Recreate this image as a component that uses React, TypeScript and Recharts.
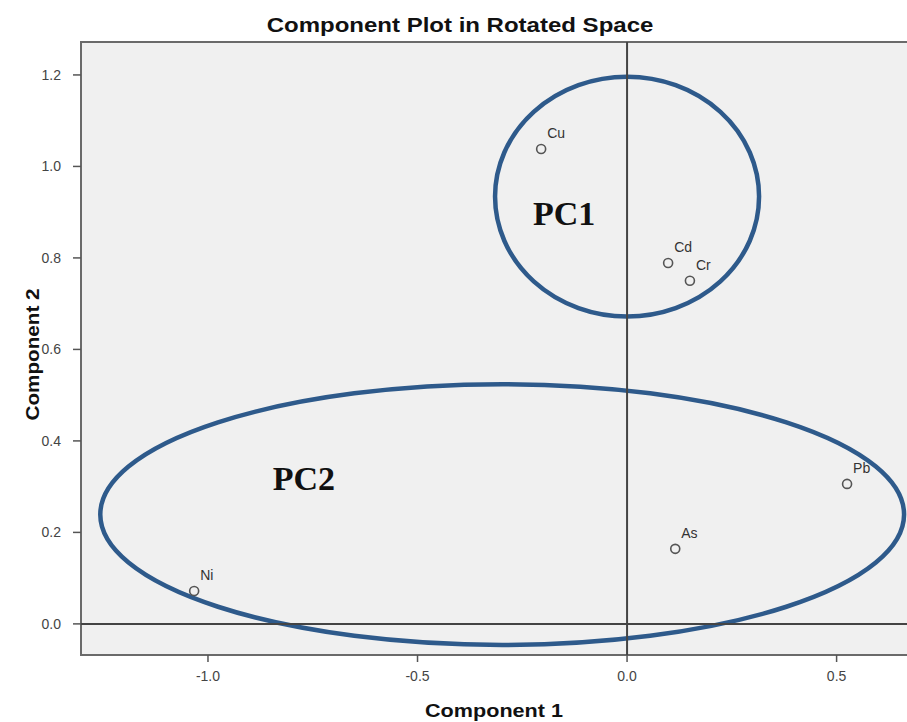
import React from "react"
import {
  ReferenceArea,
  ReferenceDot,
  ReferenceLine,
  Scatter,
  ScatterChart,
  XAxis,
  YAxis,
} from "recharts"

// component loadings
const elements = ["Cu", "Cd", "Cr", "Pb", "As", "Ni"]
const component1 = [-0.205, 0.098, 0.15, 0.525, 0.115, -1.033]
const component2 = [1.038, 0.789, 0.75, 0.306, 0.164, 0.072]

// hand-drawn groupings (centre, radii in axis units)
const groupNames = ["PC1", "PC2"]
const groupCx = [0.0, -0.298]
const groupCy = [0.934, 0.239]
const groupRx = [0.315, 0.959]
const groupRy = [0.262, 0.285]
const groupLabelX = [-0.15, -0.771]
const groupLabelY = [0.898, 0.317]

const xTicks = [-1.0, -0.5, 0.0, 0.5]
const yTicks = [0.0, 0.2, 0.4, 0.6, 0.8, 1.0, 1.2]
const X_DOMAIN: [number, number] = [-1.303, 0.668]
const Y_DOMAIN: [number, number] = [-0.068, 1.272]

const W = 907
const H = 722
const FONT = "'Liberation Sans', Arial, sans-serif"
const BG = "#f0f0f0"
const RING = "#2e5a8b"

const points = elements.map((name, i) => ({ name, x: component1[i], y: component2[i] }))

function PointMarker(props: any) {
  const { cx, cy, payload } = props
  if (cx == null || cy == null) return null
  return (
    <g>
      <circle cx={cx} cy={cy} r={4.5} fill={BG} stroke="#555" strokeWidth={1.6} />
      <text x={cx + 6} y={cy - 11} fontSize={14} fontFamily={FONT} fill="#333">
        {payload.name}
      </text>
    </g>
  )
}

function PlotFrame(props: any) {
  const { x, y, width, height } = props
  return (
    <g>
      <rect x={x} y={y} width={width} height={height} fill={BG} />
      <path
        d={`M${x + width + 2},${y} H${x} V${y + height} H${x + width + 2}`}
        fill="none"
        stroke="#6a6a6a"
        strokeWidth={2}
      />
    </g>
  )
}

function RingShape(props: any) {
  const { x, y, width, height } = props
  return (
    <ellipse
      cx={x + width / 2}
      cy={y + height / 2}
      rx={width / 2}
      ry={height / 2}
      fill="none"
      stroke={RING}
      strokeWidth={4.5}
    />
  )
}

// axis titles in the source are slightly stretched sideways
function XTitle(props: any) {
  const vb = props.viewBox
  const cx = vb.x + vb.width / 2
  const cy = vb.y + vb.height - 11
  return (
    <text
      transform={`translate(${cx},${cy}) scale(1.2,1)`}
      textAnchor="middle"
      dominantBaseline="central"
      fontFamily={FONT}
      fontWeight={700}
      fontSize={18}
      fill="#111"
    >
      Component 1
    </text>
  )
}

function YTitle(props: any) {
  const vb = props.viewBox
  const cx = 33
  const cy = vb.y + vb.height / 2 + 6
  return (
    <text
      transform={`translate(${cx},${cy}) rotate(-90) scale(1.15,1)`}
      textAnchor="middle"
      dominantBaseline="central"
      fontFamily={FONT}
      fontWeight={700}
      fontSize={18}
      fill="#111"
    >
      Component 2
    </text>
  )
}

const fmt = (v: number) => v.toFixed(1)

export default function App() {
  return (
    <div style={{ position: "absolute", left: 0, top: 0, width: W, height: H, background: "#fff" }}>
      <div
        style={{
          position: "absolute",
          left: 0,
          top: 14,
          width: 920,
          textAlign: "center",
          fontFamily: FONT,
          fontWeight: 700,
          fontSize: 20,
          lineHeight: "22px",
          color: "#111",
          transform: "scaleX(1.2)",
          transformOrigin: "460px 0",
        }}
      >
        Component Plot in Rotated Space
      </div>
      <ScatterChart width={W} height={H} margin={{ top: 42, right: 0, bottom: 0, left: 0 }}>
        <XAxis
          type="number"
          dataKey="x"
          domain={X_DOMAIN}
          allowDataOverflow
          ticks={xTicks}
          tickFormatter={fmt}
          height={67}
          axisLine={false}
          tickLine={{ stroke: "#555", strokeWidth: 1.5 }}
          tickSize={7}
          tickMargin={9}
          tick={{ fill: "#444", fontSize: 14, fontFamily: FONT }}
          label={<XTitle />}
        />
        <YAxis
          type="number"
          dataKey="y"
          domain={Y_DOMAIN}
          allowDataOverflow
          ticks={yTicks}
          tickFormatter={fmt}
          width={81}
          axisLine={false}
          tickLine={{ stroke: "#555", strokeWidth: 1.5 }}
          tickSize={8}
          tickMargin={12}
          tick={{ fill: "#444", fontSize: 14, fontFamily: FONT }}
          label={<YTitle />}
        />
        <ReferenceArea
          x1={X_DOMAIN[0]}
          x2={X_DOMAIN[1]}
          y1={Y_DOMAIN[0]}
          y2={Y_DOMAIN[1]}
          ifOverflow="visible"
          shape={<PlotFrame />}
        />
        {groupNames.map((g, i) => (
          <ReferenceArea
            key={g}
            x1={groupCx[i] - groupRx[i]}
            x2={groupCx[i] + groupRx[i]}
            y1={groupCy[i] - groupRy[i]}
            y2={groupCy[i] + groupRy[i]}
            ifOverflow="visible"
            shape={<RingShape />}
          />
        ))}
        <ReferenceLine x={0} stroke="#444" strokeWidth={2} />
        <ReferenceLine y={0} stroke="#444" strokeWidth={2} />
        {groupNames.map((g, i) => (
          <ReferenceDot
            key={`lbl-${g}`}
            x={groupLabelX[i]}
            y={groupLabelY[i]}
            ifOverflow="visible"
            shape={(p: any) => (
              <text
                x={p.cx}
                y={p.cy}
                textAnchor="middle"
                dominantBaseline="central"
                fontFamily="'Liberation Serif', 'Times New Roman', serif"
                fontWeight={700}
                fontSize={34}
                fill="#111"
              >
                {g}
              </text>
            )}
          />
        ))}
        <Scatter data={points} shape={<PointMarker />} isAnimationActive={false} />
      </ScatterChart>
    </div>
  )
}
